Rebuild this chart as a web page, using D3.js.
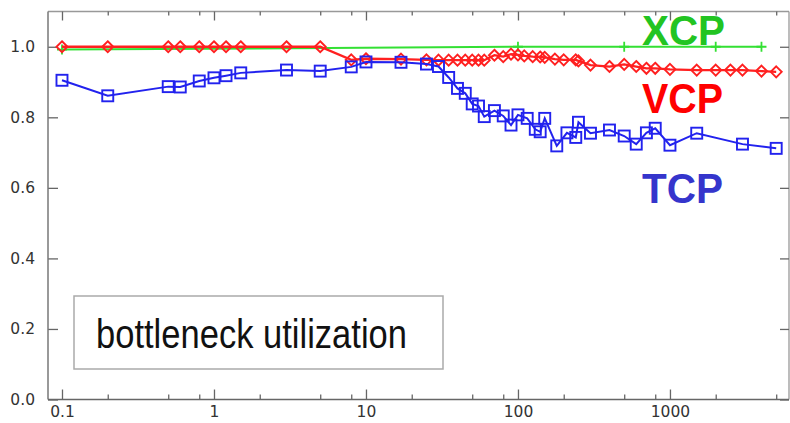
<!DOCTYPE html>
<html>
<head>
<meta charset="utf-8">
<script src="https://cdn.jsdelivr.net/npm/d3@7"></script>
<style>
body { margin: 0; background: #fff; }
svg { display: block; }
</style>
</head>
<body>
<script>
// link capacity-ish x values (log scale) and bottleneck utilization
var xcpX = [0.1, 100, 500, 2000, 4000];
var xcpY = [0.992, 1, 1, 1, 1];

var vcpX = [0.1, 0.2, 0.5, 0.6, 0.8, 1, 1.2, 1.5, 3, 5,
    8, 10, 17, 25, 30, 35, 40, 45, 50, 55,
    60, 70, 80, 90, 100, 110, 125, 140, 150, 175,
    200, 240, 250, 300, 400, 500, 600, 700, 800, 1000,
    1500, 2000, 2500, 3000, 4000, 5000];
var vcpY = [1, 1, 1, 1, 1, 1, 1, 1, 1, 1,
    0.963, 0.966, 0.965, 0.963, 0.962, 0.962, 0.962, 0.962, 0.962, 0.962,
    0.962, 0.976, 0.972, 0.979, 0.977, 0.974, 0.972, 0.971, 0.970, 0.965,
    0.963, 0.963, 0.960, 0.948, 0.944, 0.950, 0.944, 0.939, 0.939, 0.936,
    0.934, 0.934, 0.934, 0.934, 0.931, 0.929];

var tcpX = [0.1, 0.2, 0.5, 0.6, 0.8, 1, 1.2, 1.5, 3, 5,
    8, 10, 17, 25, 30, 35, 40, 45, 50, 55,
    60, 70, 80, 90, 100, 115, 130, 140, 150, 180,
    210, 240, 250, 300, 400, 500, 600, 700, 800, 1000,
    1500, 3000, 5000];
var tcpY = [0.905, 0.861, 0.887, 0.886, 0.903, 0.912, 0.918, 0.926, 0.934, 0.931,
    0.943, 0.957, 0.956, 0.951, 0.944, 0.913, 0.882, 0.868, 0.838, 0.832,
    0.802, 0.819, 0.804, 0.778, 0.807, 0.797, 0.766, 0.759, 0.797, 0.719,
    0.756, 0.743, 0.786, 0.755, 0.764, 0.747, 0.724, 0.756, 0.769, 0.721,
    0.755, 0.724, 0.712];

var xMajor = [0.1, 1, 10, 100, 1000];
var xMinor = [0.2, 0.5, 0.8, 2, 5, 8, 20, 50, 80, 200, 500, 800, 2000, 5000];
var yTicks = [0, 0.2, 0.4, 0.6, 0.8, 1.0];

var w = 790;
var h = 423;
var pLeft = 48, pRight = 789, pTop = 11.5, pBottom = 399.5;

var svg = d3.select("body")
    .append("svg")
    .attr("width", w)
    .attr("height", h);

var x = d3.scaleLog().domain([0.0809, 6070]).range([pLeft, pRight]);
var y = d3.scaleLinear().domain([0, 1.1]).range([pBottom, pTop]);

// frame
svg.append("line").attr("x1", pLeft).attr("x2", pRight).attr("y1", pTop).attr("y2", pTop)
    .attr("stroke", "#999").attr("stroke-width", 1.3);
svg.append("line").attr("x1", pRight).attr("x2", pRight).attr("y1", pTop).attr("y2", pBottom)
    .attr("stroke", "#999").attr("stroke-width", 1.3);

function styleAxis(g) {
    g.select(".domain").remove();
    g.selectAll(".tick line").attr("stroke", "#666").attr("stroke-width", 1.3);
    g.selectAll(".tick text").attr("fill", "#333")
        .style("font-family", "'DejaVu Sans', sans-serif").style("font-size", "15.5px");
}

svg.append("g").attr("transform", "translate(0," + pBottom + ")")
    .call(d3.axisBottom(x).tickValues(xMajor).tickSize(-10).tickPadding(6)
        .tickFormat(function (d) { return d < 1 ? "0.1" : String(d); }))
    .call(styleAxis);
svg.append("g").attr("transform", "translate(0," + pBottom + ")")
    .call(d3.axisBottom(x).tickValues(xMinor).tickSize(-5).tickFormat(""))
    .call(styleAxis);
svg.append("g").attr("transform", "translate(0," + pTop + ")")
    .call(d3.axisTop(x).tickValues(xMajor).tickSize(-9).tickFormat(""))
    .call(styleAxis);
svg.append("g").attr("transform", "translate(0," + pTop + ")")
    .call(d3.axisTop(x).tickValues(xMinor).tickSize(-4).tickFormat(""))
    .call(styleAxis);
svg.append("g").attr("transform", "translate(" + pLeft + ",0)")
    .call(d3.axisLeft(y).tickValues(yTicks).tickSize(-10).tickPadding(13).tickFormat(d3.format(".1f")))
    .call(styleAxis);
svg.append("g").attr("transform", "translate(" + pRight + ",0)")
    .call(d3.axisRight(y).tickValues(yTicks).tickSize(-9).tickFormat(""))
    .call(styleAxis);

svg.append("line").attr("x1", pLeft).attr("x2", pLeft).attr("y1", pTop).attr("y2", pBottom)
    .attr("stroke", "#777").attr("stroke-width", 1.5);
svg.append("line").attr("x1", pLeft).attr("x2", pRight).attr("y1", pBottom).attr("y2", pBottom)
    .attr("stroke", "#666").attr("stroke-width", 1.5);

var line = d3.line()
    .x(function (d) { return x(d[0]); })
    .y(function (d) { return y(d[1]); });

var xcp = d3.zip(xcpX, xcpY);
var vcp = d3.zip(vcpX, vcpY);
var tcp = d3.zip(tcpX, tcpY);

// XCP
svg.append("path").datum(xcp).attr("d", line)
    .attr("fill", "none").attr("stroke", "#33e033").attr("stroke-width", 2);
svg.selectAll(".xcpMark").data(xcp).enter().append("path")
    .attr("class", "xcpMark")
    .attr("transform", function (d) { return "translate(" + x(d[0]) + "," + y(d[1]) + ")"; })
    .attr("d", "M-5,0H5M0,-5V5")
    .attr("stroke", "#33e033").attr("stroke-width", 1.8);

// VCP
svg.append("path").datum(vcp).attr("d", line)
    .attr("fill", "none").attr("stroke", "#ff2020").attr("stroke-width", 2.3);
svg.selectAll(".vcpMark").data(vcp).enter().append("path")
    .attr("class", "vcpMark")
    .attr("transform", function (d) { return "translate(" + x(d[0]) + "," + y(d[1]) + ")"; })
    .attr("d", "M0,-5.5L5.5,0L0,5.5L-5.5,0Z")
    .attr("fill", "none").attr("stroke", "#ff2020").attr("stroke-width", 1.9);

// TCP
svg.append("path").datum(tcp).attr("d", line)
    .attr("fill", "none").attr("stroke", "#2222ee").attr("stroke-width", 2);
svg.selectAll(".tcpMark").data(tcp).enter().append("rect")
    .attr("class", "tcpMark")
    .attr("x", function (d) { return x(d[0]) - 5.5; })
    .attr("y", function (d) { return y(d[1]) - 5.5; })
    .attr("width", 11).attr("height", 11)
    .attr("fill", "none").attr("stroke", "#2222ee").attr("stroke-width", 1.9);

// series labels
var labels = [
    { t: "XCP", c: "#22c422", yb: 45, len: 83 },
    { t: "VCP", c: "#ff0000", yb: 113, len: 81 },
    { t: "TCP", c: "#3535cc", yb: 203, len: 81 }
];
svg.selectAll(".lab").data(labels).enter().append("text")
    .attr("class", "lab")
    .attr("x", 642)
    .attr("y", function (d) { return d.yb; })
    .attr("textLength", function (d) { return d.len; })
    .attr("lengthAdjust", "spacingAndGlyphs")
    .attr("fill", function (d) { return d.c; })
    .style("font-family", "'Liberation Sans', Arial, sans-serif")
    .style("font-weight", "bold")
    .style("font-size", "43px")
    .text(function (d) { return d.t; });

// caption box
svg.append("rect")
    .attr("x", 74).attr("y", 296).attr("width", 369).attr("height", 73)
    .attr("fill", "#fff").attr("stroke", "#aaa").attr("stroke-width", 1.5);
svg.append("text")
    .attr("x", 96).attr("y", 348)
    .attr("textLength", 311)
    .attr("lengthAdjust", "spacingAndGlyphs")
    .attr("fill", "#111")
    .style("font-family", "'Liberation Sans', Arial, sans-serif")
    .style("font-size", "41px")
    .text("bottleneck utilization");
</script>
</body>
</html>
